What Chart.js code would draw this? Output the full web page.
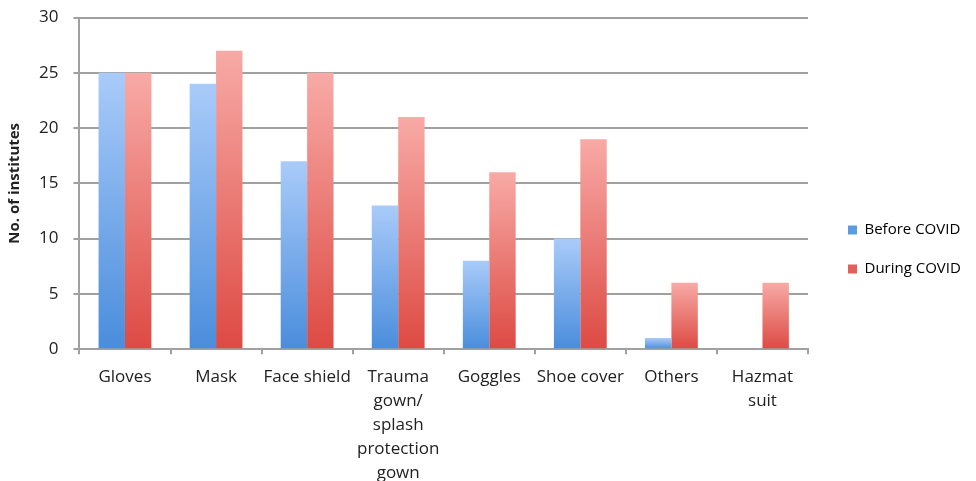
<!DOCTYPE html>
<html><head><meta charset="utf-8">
<script src="https://cdn.jsdelivr.net/npm/chart.js@4/dist/chart.umd.min.js"></script>
<style>html,body{margin:0;padding:0;background:#fff;overflow:hidden}#wrap{width:976px;height:481px}</style>
</head><body><div id="wrap"><canvas id="c" width="976" height="481"></canvas></div>
<script>
const categories = [["Gloves"],["Mask"],["Face shield"],["Trauma","gown/","splash","protection","gown"],["Goggles"],["Shoe cover"],["Others"],["Hazmat","suit"]];
const beforeCovid = [25, 24, 17, 13, 8, 10, 1, 0];
const duringCovid = [25, 27, 25, 21, 16, 19, 6, 6];
const seriesNames = ["Before COVID", "During COVID"];
const yTicks = [0, 5, 10, 15, 20, 25, 30];

function barGrad(c, top, bottom){
  const ch = c.chart, s = ch.scales && ch.scales.y;
  if(!s || !ch.chartArea || c.raw == null) return bottom;
  const y0 = s.getPixelForValue(c.raw), y1 = s.getPixelForValue(0);
  if(!isFinite(y0) || !isFinite(y1) || y0 === y1) return bottom;
  const g = ch.ctx.createLinearGradient(0, y0, 0, y1);
  g.addColorStop(0, top); g.addColorStop(1, bottom); return g;
}
// widen the legend box and shift its drawing so it sits like the original
const legendTweak = {
  id: 'legendTweak',
  afterInit(chart){
    const L = chart.legend; if(!L) return;
    const fit = L.fit.bind(L), draw = L.draw.bind(L);
    L.fit = function(){ fit(); this.width = 168; };
    L.draw = function(){ const ctx = chart.ctx; ctx.save(); ctx.translate(16, 0); draw(); ctx.restore(); };
  }
};
const FONT = "'Open Sans', sans-serif";
new Chart(document.getElementById('c'), {
  type: 'bar',
  plugins: [legendTweak],
  data: { labels: categories, datasets: [
    { label: seriesNames[0], data: beforeCovid,
      backgroundColor: c => barGrad(c, '#a9cbf9', '#4a8ddc'),
      categoryPercentage: 0.58, barPercentage: 1.0 },
    { label: seriesNames[1], data: duringCovid,
      backgroundColor: c => barGrad(c, '#f8aaa6', '#dd4a43'),
      categoryPercentage: 0.58, barPercentage: 1.0 }
  ]},
  options: {
    responsive: false, animation: false, maintainAspectRatio: false,
    layout: { padding: { top: 3, right: 0, left: 0, bottom: -15 } },
    plugins: {
      legend: { position: 'right', align: 'center',
        labels: { font: { family: FONT, size: 15 }, color: '#222', boxWidth: 9, boxHeight: 9, padding: 24,
          generateLabels: chart => seriesNames.map((n, i) => ({ text: n, fillStyle: i ? '#e0605a' : '#5b9be0', strokeStyle: 'transparent', lineWidth: 0, datasetIndex: i })) } },
      tooltip: { enabled: false }
    },
    scales: {
      x: { grid: { display: true, drawOnChartArea: false, drawTicks: true, tickLength: 5, color: '#a0a0a0', lineWidth: 2, offset: true },
           border: { color: '#a0a0a0', width: 2 },
           ticks: { font: { family: FONT, size: 17, lineHeight: 1.41 }, color: '#222', maxRotation: 0, autoSkip: false, padding: 11 } },
      y: { min: 0, max: 30, afterBuildTicks: s => { s.ticks = yTicks.map(v => ({ value: v })); },
           grid: { color: '#a0a0a0', lineWidth: 2, tickLength: 6 },
           border: { color: '#a0a0a0', width: 2 },
           ticks: { font: { family: FONT, size: 17, lineHeight: 0.3 }, color: '#222', padding: 15 },
           title: { display: true, text: 'No. of institutes', font: { family: FONT, size: 15, weight: 'bold' }, color: '#222', padding: { top: 6, bottom: 0 } } }
    }
  }
});
</script></body></html>
